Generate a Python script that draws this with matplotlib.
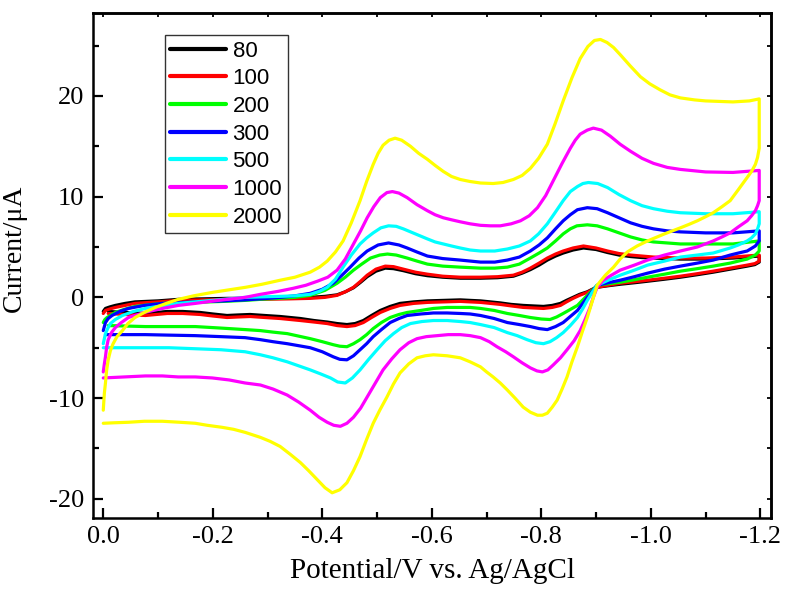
import numpy as np
import matplotlib
matplotlib.use('Agg')
import matplotlib.pyplot as plt
from matplotlib.ticker import MultipleLocator, FormatStrFormatter

# scan rates (legend labels) and colours
rates = ['80', '100', '200', '300', '500', '1000', '2000']
colors = ['black', 'red', '#00ff00', 'blue', 'cyan', 'magenta', 'yellow']

# (potential / V, current / uA): forward scan 0 -> -1.2 V, then back to 0
cv_80 = [(0.0, -1.4), (-0.002, -1.25), (-0.004, -1.1), (-0.012, -0.95), (-0.022, -0.8), (-0.04, -0.6),
         (-0.058, -0.45), (-0.1, -0.35), (-0.137, -0.2), (-0.18, -0.15), (-0.228, -0.1), (-0.287, -0.1),
         (-0.34, -0.05), (-0.378, 0.0), (-0.405, 0.1), (-0.427, 0.25), (-0.442, 0.55), (-0.457, 0.95),
         (-0.47, 1.5), (-0.482, 2.05), (-0.498, 2.6), (-0.515, 2.9), (-0.53, 2.85), (-0.548, 2.65),
         (-0.57, 2.35), (-0.592, 2.15), (-0.62, 2.0), (-0.652, 1.9), (-0.689, 1.9), (-0.72, 1.95),
         (-0.749, 2.1), (-0.765, 2.4), (-0.78, 2.75), (-0.796, 3.2), (-0.811, 3.7), (-0.826, 4.1),
         (-0.84, 4.4), (-0.858, 4.7), (-0.877, 4.9), (-0.9, 4.75), (-0.921, 4.45), (-0.942, 4.2),
         (-0.963, 4.05), (-0.984, 3.95), (-1.005, 3.9), (-1.054, 3.8), (-1.1, 3.8), (-1.15, 3.9), (-1.198, 4.1),
         (-1.198, 3.5), (-1.19, 3.25), (-1.176, 3.1), (-1.145, 2.8), (-1.114, 2.5), (-1.085, 2.25),
         (-1.054, 2.0), (-1.025, 1.8), (-0.994, 1.6), (-0.97, 1.45), (-0.944, 1.3), (-0.922, 1.15),
         (-0.902, 1.0), (-0.893, 0.8), (-0.884, 0.55), (-0.87, 0.3), (-0.858, 0.0), (-0.846, -0.3),
         (-0.835, -0.6), (-0.82, -0.8), (-0.804, -0.9), (-0.785, -0.85), (-0.767, -0.8), (-0.745, -0.7),
         (-0.725, -0.55), (-0.707, -0.45), (-0.689, -0.35), (-0.67, -0.3), (-0.652, -0.25), (-0.622, -0.3),
         (-0.592, -0.35), (-0.567, -0.45), (-0.542, -0.6), (-0.524, -0.9), (-0.506, -1.3), (-0.49, -1.8),
         (-0.475, -2.3), (-0.46, -2.6), (-0.445, -2.7), (-0.427, -2.6), (-0.409, -2.45), (-0.385, -2.3),
         (-0.36, -2.1), (-0.323, -1.9), (-0.295, -1.8), (-0.268, -1.7), (-0.245, -1.75), (-0.226, -1.8),
         (-0.2, -1.65), (-0.177, -1.5), (-0.145, -1.4), (-0.117, -1.4), (-0.077, -1.6), (-0.04, -1.5),
         (-0.009, -1.4)]

cv_100 = [(0.0, -1.6), (-0.002, -1.45), (-0.004, -1.3), (-0.012, -1.15), (-0.022, -1.0), (-0.04, -0.8),
          (-0.058, -0.6), (-0.1, -0.45), (-0.137, -0.3), (-0.18, -0.25), (-0.228, -0.2), (-0.287, -0.2),
          (-0.34, -0.15), (-0.378, -0.1), (-0.405, 0.0), (-0.427, 0.2), (-0.442, 0.55), (-0.457, 1.0),
          (-0.47, 1.6), (-0.482, 2.2), (-0.498, 2.8), (-0.515, 3.1), (-0.53, 3.05), (-0.548, 2.8),
          (-0.57, 2.5), (-0.592, 2.3), (-0.62, 2.1), (-0.652, 2.0), (-0.689, 2.0), (-0.72, 2.05),
          (-0.749, 2.2), (-0.765, 2.5), (-0.78, 2.9), (-0.796, 3.4), (-0.811, 3.9), (-0.826, 4.3),
          (-0.84, 4.6), (-0.858, 4.9), (-0.877, 5.1), (-0.9, 4.9), (-0.921, 4.6), (-0.942, 4.35),
          (-0.963, 4.2), (-0.984, 4.1), (-1.005, 4.0), (-1.054, 3.9), (-1.1, 3.9), (-1.15, 4.0), (-1.198, 4.2),
          (-1.198, 3.6), (-1.19, 3.35), (-1.176, 3.2), (-1.145, 2.9), (-1.114, 2.6), (-1.085, 2.35),
          (-1.054, 2.1), (-1.025, 1.9), (-0.994, 1.7), (-0.97, 1.55), (-0.944, 1.4), (-0.922, 1.2),
          (-0.902, 1.0), (-0.893, 0.75), (-0.884, 0.5), (-0.87, 0.2), (-0.858, -0.1), (-0.846, -0.45),
          (-0.835, -0.8), (-0.82, -1.0), (-0.804, -1.1), (-0.785, -1.05), (-0.767, -1.0), (-0.745, -0.85),
          (-0.725, -0.7), (-0.707, -0.6), (-0.689, -0.5), (-0.67, -0.45), (-0.652, -0.4), (-0.622, -0.45),
          (-0.592, -0.5), (-0.567, -0.6), (-0.542, -0.8), (-0.524, -1.1), (-0.506, -1.5), (-0.49, -2.0),
          (-0.475, -2.5), (-0.46, -2.8), (-0.445, -2.9), (-0.427, -2.8), (-0.409, -2.6), (-0.385, -2.45),
          (-0.36, -2.3), (-0.323, -2.1), (-0.295, -2.0), (-0.268, -1.9), (-0.245, -1.95), (-0.226, -2.0),
          (-0.2, -1.85), (-0.177, -1.7), (-0.145, -1.6), (-0.117, -1.6), (-0.077, -1.8), (-0.04, -1.7),
          (-0.009, -1.6)]

cv_200 = [(0.0, -2.5), (-0.003, -2.2), (-0.007, -2.0), (-0.014, -1.75), (-0.022, -1.5), (-0.038, -1.2),
          (-0.058, -0.9), (-0.08, -0.75), (-0.108, -0.6), (-0.168, -0.5), (-0.22, -0.4), (-0.259, -0.3),
          (-0.3, -0.15), (-0.323, -0.1), (-0.35, 0.0), (-0.378, 0.2), (-0.405, 0.7), (-0.427, 1.4),
          (-0.442, 2.0), (-0.457, 2.7), (-0.472, 3.3), (-0.488, 3.9), (-0.505, 4.2), (-0.519, 4.3),
          (-0.535, 4.2), (-0.555, 3.9), (-0.573, 3.6), (-0.592, 3.3), (-0.62, 3.1), (-0.652, 3.0),
          (-0.689, 2.9), (-0.715, 2.9), (-0.738, 3.0), (-0.76, 3.3), (-0.78, 3.9), (-0.796, 4.4),
          (-0.811, 4.9), (-0.826, 5.6), (-0.84, 6.3), (-0.853, 6.8), (-0.865, 7.1), (-0.884, 7.2),
          (-0.902, 7.1), (-0.921, 6.8), (-0.942, 6.4), (-0.963, 6.0), (-0.984, 5.7), (-1.005, 5.5),
          (-1.03, 5.4), (-1.054, 5.3), (-1.1, 5.3), (-1.15, 5.3), (-1.198, 5.6),
          (-1.198, 4.6), (-1.191, 4.2), (-1.176, 3.8), (-1.16, 3.6), (-1.145, 3.4), (-1.114, 3.1),
          (-1.085, 2.85), (-1.054, 2.6), (-1.025, 2.3), (-0.994, 2.0), (-0.97, 1.75), (-0.944, 1.5),
          (-0.922, 1.35), (-0.902, 1.2), (-0.893, 0.7), (-0.884, 0.2), (-0.875, -0.3), (-0.866, -0.8),
          (-0.853, -1.2), (-0.84, -1.6), (-0.828, -1.95), (-0.816, -2.2), (-0.8, -2.15), (-0.78, -2.0),
          (-0.76, -1.8), (-0.738, -1.6), (-0.714, -1.3), (-0.689, -1.1), (-0.67, -1.0), (-0.652, -1.0),
          (-0.628, -1.0), (-0.603, -1.1), (-0.58, -1.3), (-0.555, -1.5), (-0.54, -1.7), (-0.524, -2.0),
          (-0.508, -2.5), (-0.493, -3.1), (-0.481, -3.7), (-0.469, -4.2), (-0.457, -4.6), (-0.445, -4.9),
          (-0.432, -4.85), (-0.42, -4.7), (-0.4, -4.4), (-0.378, -4.1), (-0.357, -3.85), (-0.336, -3.6),
          (-0.31, -3.45), (-0.287, -3.3), (-0.259, -3.2), (-0.215, -3.05), (-0.168, -2.9), (-0.12, -2.9),
          (-0.077, -2.9), (-0.009, -2.8)]

cv_300 = [(0.0, -3.3), (-0.002, -2.9), (-0.004, -2.5), (-0.009, -2.1), (-0.016, -1.8), (-0.03, -1.4),
          (-0.046, -1.1), (-0.075, -0.8), (-0.108, -0.6), (-0.168, -0.45), (-0.22, -0.35), (-0.259, -0.25),
          (-0.3, -0.1), (-0.323, 0.0), (-0.35, 0.15), (-0.378, 0.4), (-0.4, 0.8), (-0.42, 1.4), (-0.436, 2.2),
          (-0.451, 3.0), (-0.467, 3.9), (-0.482, 4.6), (-0.502, 5.2), (-0.521, 5.4), (-0.54, 5.2),
          (-0.555, 4.9), (-0.573, 4.5), (-0.592, 4.1), (-0.62, 3.85), (-0.652, 3.7), (-0.689, 3.5),
          (-0.715, 3.5), (-0.738, 3.7), (-0.76, 4.0), (-0.78, 4.6), (-0.796, 5.2), (-0.811, 5.9),
          (-0.826, 6.8), (-0.84, 7.6), (-0.853, 8.2), (-0.866, 8.7), (-0.884, 8.9), (-0.902, 8.8),
          (-0.921, 8.4), (-0.942, 7.9), (-0.963, 7.4), (-0.984, 7.05), (-1.005, 6.8), (-1.03, 6.6),
          (-1.054, 6.5), (-1.1, 6.4), (-1.15, 6.4), (-1.198, 6.6),
          (-1.198, 5.6), (-1.191, 5.1), (-1.176, 4.6), (-1.16, 4.4), (-1.145, 4.2), (-1.114, 3.7),
          (-1.085, 3.4), (-1.054, 3.1), (-1.025, 2.8), (-0.994, 2.4), (-0.97, 2.05), (-0.944, 1.7),
          (-0.922, 1.45), (-0.902, 1.2), (-0.893, 0.6), (-0.884, 0.0), (-0.875, -0.65), (-0.866, -1.3),
          (-0.853, -1.9), (-0.84, -2.5), (-0.826, -2.9), (-0.811, -3.2), (-0.796, -3.1), (-0.78, -2.9),
          (-0.76, -2.7), (-0.738, -2.5), (-0.714, -2.1), (-0.689, -1.8), (-0.67, -1.65), (-0.652, -1.6),
          (-0.628, -1.55), (-0.603, -1.55), (-0.58, -1.65), (-0.555, -1.8), (-0.54, -2.1), (-0.524, -2.5),
          (-0.508, -3.2), (-0.493, -3.9), (-0.481, -4.6), (-0.469, -5.2), (-0.457, -5.8), (-0.445, -6.2),
          (-0.432, -6.15), (-0.42, -5.9), (-0.4, -5.4), (-0.378, -5.0), (-0.357, -4.8), (-0.336, -4.6),
          (-0.31, -4.4), (-0.287, -4.2), (-0.259, -4.0), (-0.215, -3.9), (-0.168, -3.8), (-0.12, -3.75),
          (-0.077, -3.7), (-0.004, -3.7)]

cv_500 = [(0.0, -4.6), (-0.002, -4.1), (-0.004, -3.6), (-0.008, -3.1), (-0.013, -2.6), (-0.022, -2.2),
          (-0.035, -1.8), (-0.055, -1.4), (-0.077, -1.1), (-0.105, -0.85), (-0.137, -0.6), (-0.168, -0.45),
          (-0.199, -0.3), (-0.23, -0.15), (-0.259, 0.0), (-0.29, 0.05), (-0.323, 0.1), (-0.35, 0.15),
          (-0.378, 0.3), (-0.395, 0.6), (-0.409, 1.0), (-0.424, 1.8), (-0.438, 3.0), (-0.453, 4.2),
          (-0.469, 5.3), (-0.481, 5.9), (-0.493, 6.4), (-0.507, 6.9), (-0.521, 7.1), (-0.535, 7.05),
          (-0.548, 6.8), (-0.57, 6.3), (-0.592, 5.8), (-0.606, 5.5), (-0.621, 5.3), (-0.636, 5.1),
          (-0.652, 4.9), (-0.67, 4.7), (-0.689, 4.6), (-0.715, 4.6), (-0.738, 4.8), (-0.76, 5.1),
          (-0.78, 5.6), (-0.795, 6.3), (-0.811, 7.3), (-0.825, 8.4), (-0.84, 9.6), (-0.853, 10.5),
          (-0.866, 11.0), (-0.876, 11.3), (-0.886, 11.4), (-0.903, 11.3), (-0.921, 10.9), (-0.942, 10.2),
          (-0.963, 9.6), (-0.984, 9.1), (-1.005, 8.8), (-1.03, 8.55), (-1.054, 8.4), (-1.1, 8.3),
          (-1.15, 8.3), (-1.198, 8.5),
          (-1.198, 7.3), (-1.195, 6.8), (-1.191, 6.3), (-1.184, 5.9), (-1.176, 5.6), (-1.16, 5.2),
          (-1.145, 4.9), (-1.114, 4.4), (-1.085, 4.2), (-1.054, 4.0), (-1.025, 3.6), (-0.994, 3.2),
          (-0.97, 2.7), (-0.944, 2.2), (-0.922, 1.7), (-0.902, 1.2), (-0.893, 0.5), (-0.884, -0.3),
          (-0.875, -1.2), (-0.866, -2.0), (-0.853, -2.8), (-0.84, -3.5), (-0.828, -4.0), (-0.816, -4.4),
          (-0.804, -4.6), (-0.79, -4.5), (-0.774, -4.2), (-0.756, -3.8), (-0.738, -3.5), (-0.714, -3.0),
          (-0.689, -2.7), (-0.67, -2.5), (-0.652, -2.4), (-0.628, -2.3), (-0.603, -2.3), (-0.582, -2.4),
          (-0.561, -2.6), (-0.545, -3.0), (-0.53, -3.6), (-0.515, -4.3), (-0.5, -5.2), (-0.484, -6.2),
          (-0.469, -7.2), (-0.455, -8.0), (-0.442, -8.5), (-0.428, -8.4), (-0.415, -8.0), (-0.397, -7.6),
          (-0.378, -7.2), (-0.357, -6.8), (-0.336, -6.4), (-0.31, -6.0), (-0.287, -5.7), (-0.259, -5.4),
          (-0.215, -5.2), (-0.168, -5.1), (-0.12, -5.0), (-0.077, -5.0), (-0.04, -5.0), (0.0, -5.0)]

cv_1000 = [(0.0, -7.4), (-0.002, -6.6), (-0.004, -5.9), (-0.006, -5.0), (-0.009, -4.2), (-0.015, -3.5),
           (-0.022, -3.0), (-0.033, -2.5), (-0.046, -2.0), (-0.075, -1.5), (-0.108, -1.1), (-0.137, -0.8),
           (-0.168, -0.6), (-0.21, -0.3), (-0.259, 0.0), (-0.287, 0.3), (-0.32, 0.6), (-0.347, 0.9),
           (-0.37, 1.2), (-0.391, 1.6), (-0.41, 2.0), (-0.427, 2.7), (-0.442, 3.8), (-0.457, 5.3),
           (-0.47, 6.6), (-0.482, 7.9), (-0.494, 9.0), (-0.506, 9.9), (-0.518, 10.4), (-0.528, 10.5),
           (-0.54, 10.35), (-0.555, 9.9), (-0.573, 9.2), (-0.592, 8.6), (-0.606, 8.2), (-0.621, 7.9),
           (-0.636, 7.7), (-0.652, 7.5), (-0.67, 7.3), (-0.689, 7.15), (-0.707, 7.1), (-0.725, 7.1),
           (-0.745, 7.3), (-0.762, 7.6), (-0.778, 8.1), (-0.793, 8.9), (-0.808, 10.1), (-0.822, 11.6),
           (-0.838, 13.3), (-0.853, 14.8), (-0.862, 15.6), (-0.871, 16.2), (-0.884, 16.6), (-0.895, 16.8),
           (-0.91, 16.6), (-0.926, 16.0), (-0.944, 15.2), (-0.963, 14.5), (-0.984, 13.8), (-1.005, 13.3),
           (-1.03, 12.9), (-1.054, 12.7), (-1.1, 12.45), (-1.15, 12.4), (-1.198, 12.6),
           (-1.198, 9.6), (-1.195, 9.1), (-1.191, 8.6), (-1.184, 8.1), (-1.176, 7.6), (-1.16, 7.0),
           (-1.145, 6.4), (-1.13, 6.0), (-1.114, 5.6), (-1.085, 5.0), (-1.054, 4.6), (-1.025, 4.2),
           (-0.994, 3.7), (-0.97, 3.2), (-0.944, 2.7), (-0.928, 2.2), (-0.913, 1.7), (-0.902, 1.0),
           (-0.895, 0.0), (-0.889, -1.0), (-0.88, -2.2), (-0.871, -3.3), (-0.86, -4.3), (-0.847, -5.2),
           (-0.835, -6.0), (-0.822, -6.7), (-0.812, -7.2), (-0.802, -7.4), (-0.792, -7.3), (-0.78, -7.0),
           (-0.765, -6.5), (-0.749, -5.9), (-0.735, -5.4), (-0.719, -4.9), (-0.705, -4.4), (-0.689, -4.0),
           (-0.67, -3.8), (-0.652, -3.7), (-0.63, -3.7), (-0.61, -3.8), (-0.59, -3.9), (-0.573, -4.1),
           (-0.558, -4.5), (-0.542, -5.2), (-0.527, -6.1), (-0.511, -7.2), (-0.497, -8.5), (-0.482, -9.9),
           (-0.47, -11.0), (-0.457, -11.9), (-0.445, -12.5), (-0.433, -12.8), (-0.421, -12.7),
           (-0.409, -12.4), (-0.394, -11.9), (-0.378, -11.2), (-0.357, -10.4), (-0.336, -9.7),
           (-0.31, -9.1), (-0.287, -8.7), (-0.259, -8.5), (-0.23, -8.2), (-0.199, -8.0), (-0.168, -7.9),
           (-0.137, -7.9), (-0.108, -7.8), (-0.077, -7.8), (-0.04, -7.9), (0.0, -8.0)]

cv_2000 = [(0.0, -11.2), (-0.002, -9.5), (-0.004, -8.5), (-0.006, -7.3), (-0.009, -6.2), (-0.013, -5.3),
           (-0.018, -4.6), (-0.025, -3.9), (-0.035, -3.3), (-0.045, -2.6), (-0.058, -2.0), (-0.075, -1.5),
           (-0.095, -1.0), (-0.115, -0.6), (-0.137, -0.2), (-0.165, 0.15), (-0.2, 0.5), (-0.23, 0.75),
           (-0.26, 1.0), (-0.29, 1.3), (-0.323, 1.7), (-0.35, 2.0), (-0.378, 2.5), (-0.395, 3.0),
           (-0.409, 3.6), (-0.424, 4.5), (-0.438, 5.6), (-0.453, 7.4), (-0.469, 9.6), (-0.481, 11.5),
           (-0.493, 13.2), (-0.502, 14.3), (-0.511, 15.1), (-0.522, 15.6), (-0.533, 15.8), (-0.545, 15.6),
           (-0.561, 15.0), (-0.576, 14.3), (-0.592, 13.7), (-0.606, 13.1), (-0.621, 12.5), (-0.636, 12.0),
           (-0.652, 11.7), (-0.67, 11.5), (-0.689, 11.35), (-0.712, 11.3), (-0.73, 11.4), (-0.749, 11.7),
           (-0.765, 12.1), (-0.78, 12.8), (-0.795, 13.8), (-0.811, 15.2), (-0.825, 17.2), (-0.84, 19.5),
           (-0.856, 21.8), (-0.871, 23.7), (-0.885, 24.9), (-0.897, 25.5), (-0.908, 25.6), (-0.92, 25.3),
           (-0.932, 24.8), (-0.944, 24.1), (-0.962, 23.0), (-0.981, 21.9), (-0.998, 21.2), (-1.017, 20.6),
           (-1.035, 20.1), (-1.054, 19.8), (-1.08, 19.6), (-1.1, 19.5), (-1.15, 19.4), (-1.18, 19.5),
           (-1.198, 19.7),
           (-1.198, 14.8), (-1.195, 13.9), (-1.191, 13.2), (-1.184, 12.5), (-1.176, 11.9), (-1.16, 10.7),
           (-1.145, 9.6), (-1.13, 9.0), (-1.114, 8.4), (-1.1, 8.0), (-1.085, 7.6), (-1.07, 7.25),
           (-1.054, 6.9), (-1.025, 6.3), (-0.994, 5.6), (-0.975, 5.1), (-0.957, 4.5), (-0.944, 3.8),
           (-0.932, 3.0), (-0.917, 2.2), (-0.902, 1.2), (-0.893, -0.4), (-0.884, -2.0), (-0.875, -3.4),
           (-0.866, -4.9), (-0.856, -6.4), (-0.847, -7.9), (-0.838, -9.1), (-0.829, -10.2), (-0.82, -10.9),
           (-0.811, -11.5), (-0.802, -11.7), (-0.793, -11.7), (-0.78, -11.4), (-0.767, -10.9),
           (-0.752, -10.0), (-0.738, -9.2), (-0.725, -8.5), (-0.712, -7.9), (-0.7, -7.4), (-0.689, -6.9),
           (-0.67, -6.4), (-0.652, -6.0), (-0.628, -5.8), (-0.603, -5.7), (-0.588, -5.8), (-0.573, -6.0),
           (-0.558, -6.6), (-0.542, -7.5), (-0.53, -8.6), (-0.518, -9.9), (-0.505, -11.2), (-0.493, -12.5),
           (-0.481, -14.1), (-0.469, -15.8), (-0.457, -17.2), (-0.445, -18.4), (-0.432, -19.1),
           (-0.418, -19.4), (-0.405, -18.9), (-0.391, -18.1), (-0.375, -17.2), (-0.36, -16.4),
           (-0.342, -15.6), (-0.323, -14.8), (-0.305, -14.3), (-0.287, -13.9), (-0.259, -13.4),
           (-0.238, -13.1), (-0.217, -12.9), (-0.19, -12.7), (-0.168, -12.5), (-0.14, -12.4), (-0.108, -12.3),
           (-0.075, -12.3), (-0.046, -12.4), (-0.02, -12.45), (0.0, -12.5)]

curves = [cv_80, cv_100, cv_200, cv_300, cv_500, cv_1000, cv_2000]

plt.rcParams['font.family'] = 'Liberation Serif'
plt.rcParams['axes.unicode_minus'] = False

fig = plt.figure(figsize=(7.87, 6.03), dpi=100)
ax = fig.add_axes([0.118, 0.141, 0.862, 0.837])

for cv, c, lab in zip(curves, colors, rates):
    e, i = zip(*cv)
    ax.plot(e, i, color=c, linewidth=2.3, label=lab, solid_joinstyle='round', solid_capstyle='round')

ax.set_xlim(0.019, -1.22)
ax.set_ylim(-21.9, 28.2)

ax.xaxis.set_major_locator(MultipleLocator(0.2))
ax.xaxis.set_minor_locator(MultipleLocator(0.1))
ax.xaxis.set_major_formatter(FormatStrFormatter('%.1f'))
ax.yaxis.set_major_locator(MultipleLocator(10))
ax.yaxis.set_minor_locator(MultipleLocator(5))

ax.tick_params(which='major', direction='in', length=7, width=1.6, labelsize=19, pad=6)
ax.tick_params(which='minor', direction='in', length=4, width=1.6)
for s in ax.spines.values():
    s.set_linewidth(1.8)

# short ticks on top and right
top = ax.secondary_xaxis('top')
top.xaxis.set_major_locator(MultipleLocator(0.1))
top.tick_params(direction='in', length=3, width=1.3, labeltop=False)
right = ax.secondary_yaxis('right')
right.yaxis.set_major_locator(MultipleLocator(5))
right.tick_params(direction='in', length=3, width=1.3, labelright=False)
top.spines['top'].set_linewidth(1.8)
right.spines['right'].set_linewidth(1.8)

ax.set_xlabel('Potential/V vs. Ag/AgCl', fontsize=21, labelpad=7)
ax.set_ylabel('Current/\u03bcA', fontsize=20)
ax.yaxis.set_label_coords(-0.098, 0.535)

leg = ax.legend(loc='upper left', bbox_to_anchor=(0.106, 0.957), prop={'family': 'Liberation Sans', 'size': 16},
                frameon=True, fancybox=False, edgecolor='black', handlelength=2.5, handletextpad=0.3,
                labelspacing=0.3, borderpad=0.25, borderaxespad=0)
leg.get_frame().set_linewidth(1.0)
for line in leg.get_lines():
    line.set_linewidth(3)

fig.savefig('out.png', dpi=100)
